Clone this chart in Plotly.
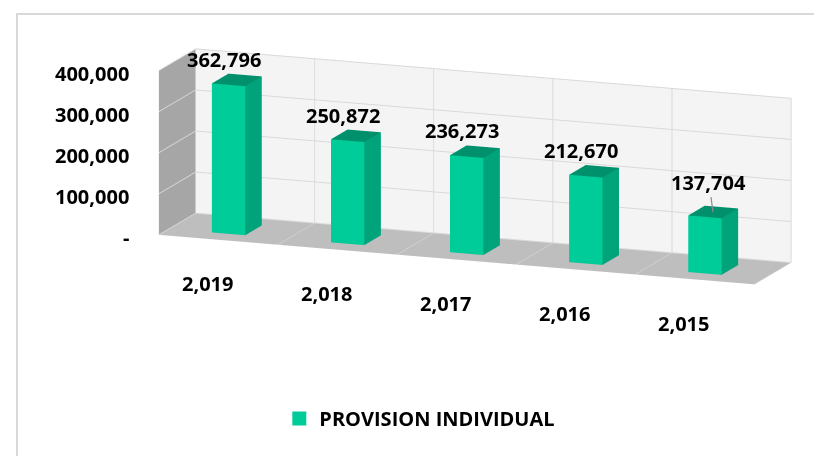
import plotly.graph_objects as go

# ---------------- data ----------------
years = ["2,019", "2,018", "2,017", "2,016", "2,015"]
values = [362796, 250872, 236273, 212670, 137704]
value_labels = ["362,796", "250,872", "236,273", "212,670", "137,704"]
series_name = "PROVISION INDIVIDUAL"
z_tickvals = [0, 100000, 200000, 300000, 400000]
z_ticktext = ["-", "100,000", "200,000", "300,000", "400,000"]

# ---------------- style ----------------
FRONT = "#00CC99"
SIDE = "#00A37A"
TOP = "#00916C"
FONT = "Open Sans"
BAR_W = 0.28
BAR_D = 0.45

# build cuboid bars from the values
xs, ys, zs, I, J, K, fc = [], [], [], [], [], [], []
for idx, v in enumerate(values):
    x0, x1 = idx - BAR_W / 2, idx + BAR_W / 2
    y0, y1 = 0.5 - BAR_D / 2, 0.5 + BAR_D / 2
    b = len(xs)
    for (cx, cy, cz) in [(x0, y0, 0), (x1, y0, 0), (x1, y1, 0), (x0, y1, 0),
                         (x0, y0, v), (x1, y0, v), (x1, y1, v), (x0, y1, v)]:
        xs.append(cx); ys.append(cy); zs.append(cz)
    faces = [
        ((0, 1, 5), FRONT), ((0, 5, 4), FRONT),
        ((1, 2, 6), SIDE), ((1, 6, 5), SIDE),
        ((4, 5, 6), TOP), ((4, 6, 7), TOP),
        ((3, 2, 6), SIDE), ((3, 6, 7), SIDE),
        ((0, 3, 7), FRONT), ((0, 7, 4), FRONT),
        ((0, 1, 2), SIDE), ((0, 2, 3), SIDE),
    ]
    for (a, bb, c), col in faces:
        I.append(b + a); J.append(b + bb); K.append(b + c); fc.append(col)

fig = go.Figure()
fig.add_trace(go.Mesh3d(
    x=xs, y=ys, z=zs, i=I, j=J, k=K, facecolor=fc, flatshading=True,
    lighting=dict(ambient=1, diffuse=0, specular=0, roughness=1, fresnel=0),
    hoverinfo="skip", showlegend=False, name=series_name,
))
# legend proxy
fig.add_trace(go.Scatter(
    x=[None], y=[None], mode="markers", name=series_name,
    marker=dict(symbol="square", size=14, color=FRONT), showlegend=True,
))

lab_font = dict(family=FONT, size=20, color="#000000")
annotations = []
last = len(values) - 1
for idx, (v, lab) in enumerate(zip(values, value_labels)):
    if idx == last:
        annotations.append(dict(x=idx, y=0.5, z=v, text="<b>%s</b>" % lab,
                                showarrow=True, arrowhead=0, arrowwidth=1.2,
                                arrowcolor="#8C8C8C", ax=-4, ay=-30, font=lab_font))
    else:
        annotations.append(dict(x=idx, y=0.5, z=v, text="<b>%s</b>" % lab,
                                showarrow=False, yanchor="middle", yshift=21,
                                xshift=-13, font=lab_font))
for idx, yr in enumerate(years):
    annotations.append(dict(x=idx, y=0, z=0, text="<b>%s</b>" % yr, showarrow=False,
                            yanchor="middle", yshift=-44, xshift=-11, font=lab_font))
for tv, tt in zip(z_tickvals, z_ticktext):
    annotations.append(dict(x=-0.5, y=0, z=tv, text="<b>%s</b>" % tt, showarrow=False,
                            xanchor="right", xshift=-28, yshift=-3, font=lab_font))

grid = "#D9D9D9"
fig.update_layout(
    width=822, height=456,
    margin=dict(l=0, r=0, t=0, b=0),
    paper_bgcolor="white",
    plot_bgcolor="white",
    showlegend=True,
    legend=dict(orientation="h", x=0.501, xanchor="center", y=0.10, yanchor="middle",
                font=dict(family=FONT, size=20, color="#000000", weight="bold"),
                bgcolor="rgba(0,0,0,0)"),
    xaxis=dict(visible=False), yaxis=dict(visible=False),
    hovermode=False,
    scene=dict(
        domain=dict(x=[0.146, 0.990], y=[0.318, 0.986]),
        aspectmode="manual",
        aspectratio=dict(x=4.17, y=0.686, z=1.106),
        camera=dict(eye=dict(x=0.618, y=-1.648, z=0.400), up=dict(x=0, y=0, z=1),
                    center=dict(x=0, y=0, z=0), projection=dict(type="orthographic")),
        xaxis=dict(range=[-0.5, 4.5], tickvals=[-0.5, 0.5, 1.5, 2.5, 3.5, 4.5],
                   showticklabels=False, title=dict(text=""), showgrid=True, gridcolor=grid,
                   showbackground=True, backgroundcolor="#A6A6A6", zeroline=False,
                   showspikes=False, ticks=""),
        yaxis=dict(range=[0, 1], showticklabels=False, title=dict(text=""), showgrid=False,
                   showbackground=True, backgroundcolor="#F4F4F4", zeroline=False,
                   showspikes=False, ticks=""),
        zaxis=dict(range=[0, 400400], tickvals=z_tickvals, showticklabels=False,
                   title=dict(text=""), showgrid=True, gridcolor=grid,
                   showbackground=True, backgroundcolor="#BEBEBE", zeroline=False,
                   showspikes=False, ticks=""),
        annotations=annotations,
    ),
    shapes=[
        dict(type="line", xref="paper", yref="paper", x0=9 / 822, x1=9 / 822,
             y0=0, y1=1 - 6 / 456, line=dict(color="#D9D9D9", width=2)),
        dict(type="line", xref="paper", yref="paper", x0=8 / 822, x1=1,
             y0=1 - 6 / 456, y1=1 - 6 / 456, line=dict(color="#D9D9D9", width=2)),
    ],
)

fig.write_html("out.html")
